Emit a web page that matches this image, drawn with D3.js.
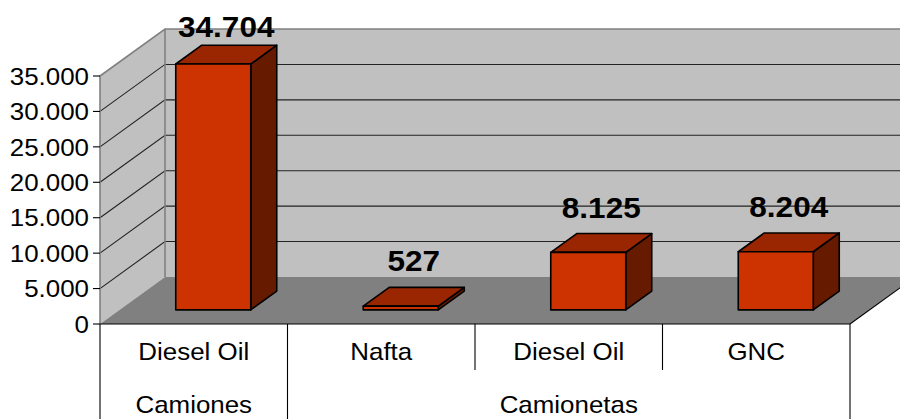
<!DOCTYPE html>
<html><head><meta charset="utf-8">
<script src="https://cdn.jsdelivr.net/npm/d3@7"></script>
<style>html,body{margin:0;padding:0;background:#fff;}svg{display:block;font-family:"Liberation Sans",Arial,sans-serif;}</style>
</head><body>
<svg id="c" width="900" height="419"></svg>
<script>
// ---- data ----
const categories = ["Diesel Oil", "Nafta", "Diesel Oil", "GNC"];
const groupLabels = ["Camiones", "Camionetas"];
const groupOfCategory = [0, 1, 1, 1];
const values = [34704, 527, 8125, 8204];
const yTicks = [0, 5000, 10000, 15000, 20000, 25000, 30000, 35000];

// ---- layout ----
const svg = d3.select("#c");
const X0 = 100, X1 = 850, YB = 324, YT = 76;
const DX = 65, DY = 47;           // depth offset of back wall
const T0 = 0.3, T1 = 0.7;         // bar depth (fraction of full depth)
const SX = 1.08, SXB = 1.05;      // horizontal text stretch
const loc = d3.formatLocale({decimal: ",", thousands: ".", grouping: [3], currency: ["$", ""]});
const fmt = loc.format(",d");

const x = d3.scaleBand().domain(d3.range(categories.length)).range([X0, X1])
  .paddingInner(0.6).paddingOuter(0.3);
const step = x.step();
const catStart = i => X0 + i * step;
const y = d3.scaleLinear().domain([0, 35000]).range([YB, YT]);
const P = (px, v, t) => [px + t * DX, y(v) - t * DY];
const poly = pts => "M" + pts.map(p => p.join(",")).join("L") + "Z";
const maxV = y.domain()[1];
const tr = (px, py, s) => `translate(${px},${py}) scale(${s},1)`;

// walls
svg.append("path").attr("d", poly([P(X0, 0, 0), P(X0, 0, 1), P(X0, maxV, 1), P(X0, maxV, 0)]))
  .attr("fill", "#c0c0c0");
svg.append("path").attr("d", poly([P(X0, 0, 1), P(X1, 0, 1), P(X1, maxV, 1), P(X0, maxV, 1)]))
  .attr("fill", "#c0c0c0");

// gridlines
const inner = yTicks.filter(v => v > 0 && v < maxV);
svg.append("g").selectAll("path").data(inner).join("path")
  .attr("d", v => "M" + P(X0, v, 0).join(",") + "L" + P(X0, v, 1).join(",") + "L" + P(X1, v, 1).join(","))
  .attr("fill", "none").attr("stroke", "#222").attr("stroke-width", 1.1);

// wall edges (grey)
svg.append("path").attr("d", "M" + P(X0, 0, 0).join(",") + "L" + P(X0, maxV, 0).join(",") + "L" + P(X0, maxV, 1).join(",") + "L" + P(X1, maxV, 1).join(","))
  .attr("fill", "none").attr("stroke", "#808080").attr("stroke-width", 1.6);
svg.append("path").attr("d", "M" + P(X0, 0, 1).join(",") + "L" + P(X0, maxV, 1).join(","))
  .attr("fill", "none").attr("stroke", "#808080").attr("stroke-width", 1.6);

// floor
svg.append("path").attr("d", poly([P(X0, 0, 0), P(X1, 0, 0), P(X1, 0, 1), P(X0, 0, 1)]))
  .attr("fill", "#808080");
svg.append("path").attr("d", "M" + P(X1, 0, 0).join(",") + "L" + P(X1, 0, 1).join(","))
  .attr("stroke", "#000").attr("stroke-width", 1.1);

// bars
const bars = svg.append("g");
values.forEach((v, i) => {
  const xa = x(i), xb = x(i) + x.bandwidth();
  const g = bars.append("g").attr("stroke", "#000").attr("stroke-width", 1.6).attr("stroke-linejoin", "round");
  g.append("path").attr("d", poly([P(xb, 0, T0), P(xb, 0, T1), P(xb, v, T1), P(xb, v, T0)])).attr("fill", "#661a00");
  g.append("path").attr("d", poly([P(xa, v, T0), P(xb, v, T0), P(xb, v, T1), P(xa, v, T1)])).attr("fill", "#992600");
  g.append("path").attr("d", poly([P(xa, 0, T0), P(xb, 0, T0), P(xb, v, T0), P(xa, v, T0)])).attr("fill", "#cc3300");
});

// value labels
svg.append("g").selectAll("text").data(values).join("text")
  .attr("transform", (v, i) => tr(x(i) + x.bandwidth() / 2 + 0.5 * DX, Math.max(37, y(v) - T1 * DY - 16), SXB))
  .attr("text-anchor", "middle").attr("font-size", 30).attr("font-weight", "bold").attr("fill", "#000")
  .text(v => fmt(v));

// y axis ticks & labels
const ya = svg.append("g");
ya.selectAll("line").data(yTicks).join("line")
  .attr("x1", X0 - 7).attr("x2", X0).attr("y1", v => y(v)).attr("y2", v => y(v))
  .attr("stroke", "#000").attr("stroke-width", 1.1);
ya.selectAll("text").data(yTicks).join("text")
  .attr("transform", v => tr(89, y(v), SX)).attr("dy", "0.36em")
  .attr("text-anchor", "end").attr("font-size", 24).attr("fill", "#000")
  .text(v => fmt(v));

// category axis (table style)
const ca = svg.append("g").attr("stroke", "#000").attr("stroke-width", 1.1);
ca.append("line").attr("x1", X0).attr("x2", X1).attr("y1", YB).attr("y2", YB);
const H = 419;
d3.range(categories.length + 1).forEach(i => {
  const px = catStart(i);
  const groupBoundary = i === 0 || i === categories.length || groupOfCategory[i] !== groupOfCategory[i - 1];
  ca.append("line").attr("x1", px).attr("x2", px).attr("y1", YB).attr("y2", groupBoundary ? H : 370);
});
svg.append("g").selectAll("text").data(categories).join("text")
  .attr("transform", (d, i) => tr(catStart(i) + step / 2, 360, SX))
  .attr("text-anchor", "middle").attr("font-size", 24).attr("fill", "#000").text(d => d);
svg.append("g").selectAll("text").data(groupLabels).join("text")
  .attr("transform", (d, gi) => {
    const idx = d3.range(categories.length).filter(i => groupOfCategory[i] === gi);
    return tr((catStart(d3.min(idx)) + catStart(d3.max(idx) + 1)) / 2, 413, SX);
  })
  .attr("text-anchor", "middle").attr("font-size", 24).attr("fill", "#000").text(d => d);
</script>
</body></html>
